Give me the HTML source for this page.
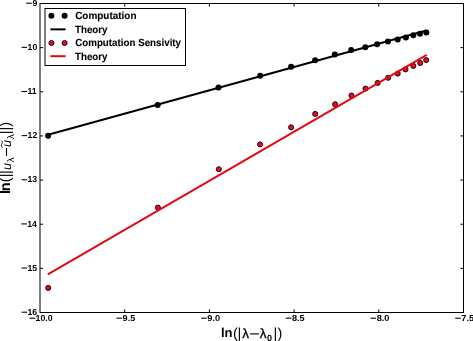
<!DOCTYPE html><html><head><meta charset="utf-8"><style>html,body{margin:0;padding:0;background:#fff;overflow:hidden}svg{display:block;will-change:transform}text{font-family:"Liberation Sans",sans-serif;text-rendering:geometricPrecision}</style></head><body>
<svg width="473" height="341" viewBox="0 0 473 341">
<rect x="0" y="0" width="473" height="341" fill="#fff"/>
<circle cx="48.10" cy="135.80" r="3" fill="#000"/>
<circle cx="157.70" cy="105.10" r="3" fill="#000"/>
<circle cx="218.50" cy="87.60" r="3" fill="#000"/>
<circle cx="260.20" cy="75.70" r="3" fill="#000"/>
<circle cx="291.10" cy="66.80" r="3" fill="#000"/>
<circle cx="315.10" cy="60.30" r="3" fill="#000"/>
<circle cx="334.80" cy="54.60" r="3" fill="#000"/>
<circle cx="351.20" cy="50.10" r="3" fill="#000"/>
<circle cx="365.30" cy="47.20" r="3" fill="#000"/>
<circle cx="377.10" cy="44.20" r="3" fill="#000"/>
<circle cx="387.90" cy="41.60" r="3" fill="#000"/>
<circle cx="397.70" cy="39.40" r="3" fill="#000"/>
<circle cx="405.90" cy="37.50" r="3" fill="#000"/>
<circle cx="413.30" cy="35.30" r="3" fill="#000"/>
<circle cx="420.00" cy="33.70" r="3" fill="#000"/>
<circle cx="426.30" cy="32.40" r="3" fill="#000"/>
<line x1="48.1" y1="134.7" x2="426.5" y2="30.45" stroke="#000" stroke-width="2.0"/>
<circle cx="48.2" cy="287.9" r="2.55" fill="#e60a24" stroke="#000" stroke-width="0.85"/>
<circle cx="157.9" cy="207.6" r="2.55" fill="#e60a24" stroke="#000" stroke-width="0.85"/>
<circle cx="218.8" cy="169.2" r="2.55" fill="#e60a24" stroke="#000" stroke-width="0.85"/>
<circle cx="260.1" cy="144.4" r="2.55" fill="#e60a24" stroke="#000" stroke-width="0.85"/>
<circle cx="291.1" cy="127.3" r="2.55" fill="#e60a24" stroke="#000" stroke-width="0.85"/>
<circle cx="315.2" cy="113.9" r="2.55" fill="#e60a24" stroke="#000" stroke-width="0.85"/>
<circle cx="335.1" cy="104.2" r="2.55" fill="#e60a24" stroke="#000" stroke-width="0.85"/>
<circle cx="351.5" cy="95.5" r="2.55" fill="#e60a24" stroke="#000" stroke-width="0.85"/>
<circle cx="365.5" cy="88.6" r="2.55" fill="#e60a24" stroke="#000" stroke-width="0.85"/>
<circle cx="377.7" cy="82.9" r="2.55" fill="#e60a24" stroke="#000" stroke-width="0.85"/>
<circle cx="388.1" cy="77.8" r="2.55" fill="#e60a24" stroke="#000" stroke-width="0.85"/>
<circle cx="397.7" cy="73.6" r="2.55" fill="#e60a24" stroke="#000" stroke-width="0.85"/>
<circle cx="405.5" cy="69.4" r="2.55" fill="#e60a24" stroke="#000" stroke-width="0.85"/>
<circle cx="413.3" cy="65.9" r="2.55" fill="#e60a24" stroke="#000" stroke-width="0.85"/>
<circle cx="420.2" cy="63.0" r="2.55" fill="#e60a24" stroke="#000" stroke-width="0.85"/>
<circle cx="426.2" cy="60.1" r="2.55" fill="#e60a24" stroke="#000" stroke-width="0.85"/>
<line x1="47.8" y1="274.4" x2="426.8" y2="54.81" stroke="#e00a14" stroke-width="2.0"/>
<rect x="40.0" y="3.5" width="423.5" height="309.0" fill="none" stroke="#000" stroke-width="1"/>
<line x1="124.70" y1="312.5" x2="124.70" y2="309.4" stroke="#000" stroke-width="1.0"/>
<line x1="124.70" y1="3.5" x2="124.70" y2="6.6" stroke="#000" stroke-width="1.0"/>
<line x1="209.40" y1="312.5" x2="209.40" y2="309.4" stroke="#000" stroke-width="1.0"/>
<line x1="209.40" y1="3.5" x2="209.40" y2="6.6" stroke="#000" stroke-width="1.0"/>
<line x1="294.10" y1="312.5" x2="294.10" y2="309.4" stroke="#000" stroke-width="1.0"/>
<line x1="294.10" y1="3.5" x2="294.10" y2="6.6" stroke="#000" stroke-width="1.0"/>
<line x1="378.80" y1="312.5" x2="378.80" y2="309.4" stroke="#000" stroke-width="1.0"/>
<line x1="378.80" y1="3.5" x2="378.80" y2="6.6" stroke="#000" stroke-width="1.0"/>
<line x1="40.0" y1="47.64" x2="43.1" y2="47.64" stroke="#000" stroke-width="1.0"/>
<line x1="463.5" y1="47.64" x2="460.4" y2="47.64" stroke="#000" stroke-width="1.0"/>
<line x1="40.0" y1="91.79" x2="43.1" y2="91.79" stroke="#000" stroke-width="1.0"/>
<line x1="463.5" y1="91.79" x2="460.4" y2="91.79" stroke="#000" stroke-width="1.0"/>
<line x1="40.0" y1="135.93" x2="43.1" y2="135.93" stroke="#000" stroke-width="1.0"/>
<line x1="463.5" y1="135.93" x2="460.4" y2="135.93" stroke="#000" stroke-width="1.0"/>
<line x1="40.0" y1="180.07" x2="43.1" y2="180.07" stroke="#000" stroke-width="1.0"/>
<line x1="463.5" y1="180.07" x2="460.4" y2="180.07" stroke="#000" stroke-width="1.0"/>
<line x1="40.0" y1="224.21" x2="43.1" y2="224.21" stroke="#000" stroke-width="1.0"/>
<line x1="463.5" y1="224.21" x2="460.4" y2="224.21" stroke="#000" stroke-width="1.0"/>
<line x1="40.0" y1="268.36" x2="43.1" y2="268.36" stroke="#000" stroke-width="1.0"/>
<line x1="463.5" y1="268.36" x2="460.4" y2="268.36" stroke="#000" stroke-width="1.0"/>
<rect x="29.65" y="317.68" width="5.6" height="1.05" fill="#000"/>
<text x="35.60" y="321.2" font-size="8.7" font-weight="bold" textLength="17.11" lengthAdjust="spacingAndGlyphs">10.0</text>
<rect x="116.40" y="317.68" width="5.6" height="1.05" fill="#000"/>
<text x="122.58" y="321.2" font-size="8.7" font-weight="bold" textLength="12.67" lengthAdjust="spacingAndGlyphs">9.5</text>
<rect x="201.10" y="317.68" width="5.6" height="1.05" fill="#000"/>
<text x="207.28" y="321.2" font-size="8.7" font-weight="bold" textLength="12.80" lengthAdjust="spacingAndGlyphs">9.0</text>
<rect x="285.80" y="317.68" width="5.6" height="1.05" fill="#000"/>
<text x="292.01" y="321.2" font-size="8.7" font-weight="bold" textLength="12.64" lengthAdjust="spacingAndGlyphs">8.5</text>
<rect x="370.50" y="317.68" width="5.6" height="1.05" fill="#000"/>
<text x="376.71" y="321.2" font-size="8.7" font-weight="bold" textLength="12.77" lengthAdjust="spacingAndGlyphs">8.0</text>
<rect x="455.20" y="317.68" width="5.6" height="1.05" fill="#000"/>
<text x="461.31" y="321.2" font-size="8.7" font-weight="bold" textLength="12.75" lengthAdjust="spacingAndGlyphs">7.5</text>
<rect x="26.19" y="2.67" width="5.6" height="1.05" fill="#000"/>
<text x="32.38" y="5.85" font-size="8.7" font-weight="bold">9</text>
<rect x="21.63" y="46.82" width="5.6" height="1.05" fill="#000"/>
<text x="27.58" y="49.99" font-size="8.7" font-weight="bold">10</text>
<rect x="21.51" y="90.96" width="5.6" height="1.05" fill="#000"/>
<text x="27.47" y="94.14" font-size="8.7" font-weight="bold">11</text>
<rect x="21.62" y="135.10" width="5.6" height="1.05" fill="#000"/>
<text x="27.57" y="138.28" font-size="8.7" font-weight="bold">12</text>
<rect x="21.59" y="179.25" width="5.6" height="1.05" fill="#000"/>
<text x="27.54" y="182.42" font-size="8.7" font-weight="bold">13</text>
<rect x="21.32" y="223.39" width="5.6" height="1.05" fill="#000"/>
<text x="27.27" y="226.56" font-size="8.7" font-weight="bold">14</text>
<rect x="21.51" y="267.53" width="5.6" height="1.05" fill="#000"/>
<text x="27.47" y="270.71" font-size="8.7" font-weight="bold">15</text>
<rect x="21.59" y="311.68" width="5.6" height="1.05" fill="#000"/>
<text x="27.54" y="314.85" font-size="8.7" font-weight="bold">16</text>
<rect x="45" y="8.5" width="140.5" height="57" fill="#fff" stroke="#000" stroke-width="1"/>
<circle cx="51.4" cy="15.7" r="3" fill="#000"/>
<circle cx="51.4" cy="42.95" r="2.55" fill="#e60a24" stroke="#000" stroke-width="0.85"/>
<circle cx="64.6" cy="15.7" r="3" fill="#000"/>
<circle cx="64.6" cy="42.95" r="2.55" fill="#e60a24" stroke="#000" stroke-width="0.85"/>
<line x1="50.4" y1="29.35" x2="65.6" y2="29.35" stroke="#000" stroke-width="2.0"/>
<line x1="50.4" y1="56.2" x2="65.6" y2="56.2" stroke="#e00a14" stroke-width="2.0"/>
<text x="75.19" y="19.20" font-size="10.3" font-weight="bold" textLength="61.32" lengthAdjust="spacingAndGlyphs" stroke="#000" stroke-width="0.1">Computation</text>
<text x="74.99" y="32.80" font-size="10.3" font-weight="bold" textLength="32.56" lengthAdjust="spacingAndGlyphs" stroke="#000" stroke-width="0.1">Theory</text>
<text x="75.20" y="46.10" font-size="10.3" font-weight="bold" textLength="105.85" lengthAdjust="spacingAndGlyphs" stroke="#000" stroke-width="0.1">Computation Sensivity</text>
<text x="74.99" y="59.60" font-size="10.3" font-weight="bold" textLength="32.56" lengthAdjust="spacingAndGlyphs" stroke="#000" stroke-width="0.1">Theory</text>
<text x="221.00" y="336.70" font-size="13" font-weight="bold" >l</text>
<text x="224.55" y="336.70" font-size="13" font-weight="bold" >n</text>
<text x="232.93" y="337.70" font-size="14.5" >(</text>
<text x="237.62" y="337.70" font-size="14.5" >|</text>
<text x="242.14" y="337.60" font-size="13.5" stroke="#000" stroke-width="0.3">λ</text>
<text x="259.84" y="337.60" font-size="13.5" stroke="#000" stroke-width="0.3">λ</text>
<text x="266.90" y="340.90" font-size="9" font-weight="bold" >0</text>
<text x="273.52" y="337.70" font-size="14.5" >|</text>
<text x="277.49" y="337.70" font-size="14.5" >)</text>
<rect x="250.0" y="333.35" width="8.9" height="1.1" fill="#000"/>
<g transform="translate(10.3,194.0) rotate(-90)">
<text x="-0.06" y="0.00" font-size="14.5" font-weight="bold" >l</text>
<text x="2.84" y="0.00" font-size="14.5" font-weight="bold" >n</text>
<text x="11.78" y="0.00" font-size="14.5" >(</text>
<text x="16.72" y="0.00" font-size="14.5" >|</text>
<text x="20.12" y="0.00" font-size="14.5" >|</text>
<text x="24.09" y="0.40" font-size="12.5" font-style="italic" >u</text>
<text x="31.88" y="3.30" font-size="9.5" >λ</text>
<text x="47.14" y="0.20" font-size="12.5" font-style="italic" >u</text>
<text x="54.98" y="3.30" font-size="9.5" >λ</text>
<text x="59.72" y="0.00" font-size="14.5" >|</text>
<text x="63.42" y="0.00" font-size="14.5" >|</text>
<text x="67.39" y="0.00" font-size="14.5" >)</text>
<rect x="38.00" y="-4.35" width="8.0" height="1.1" fill="#000"/>
<path d="M46.30,-7.9 C47.60,-9.2 49.00,-9.1 50.00,-8.5 S52.40,-7.5 53.50,-8.9" fill="none" stroke="#000" stroke-width="0.9"/>
</g>
</svg></body></html>
